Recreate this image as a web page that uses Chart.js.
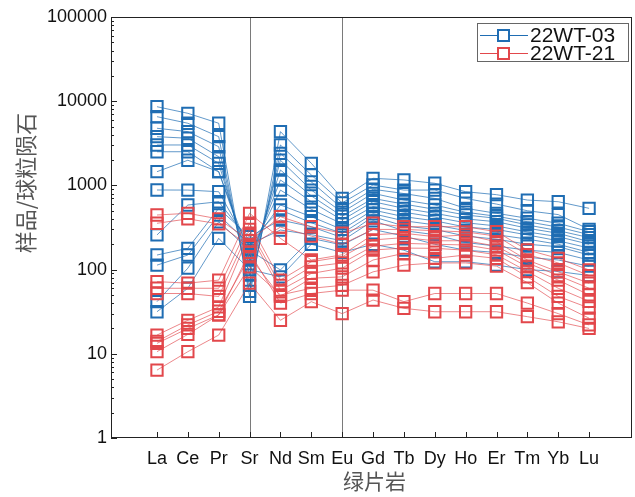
<!DOCTYPE html>
<html>
<head>
<meta charset="utf-8">
<script src="https://cdn.jsdelivr.net/npm/chart.js@4/dist/chart.umd.min.js"></script>
<style>
    html, body { margin: 0; padding: 0; background: #fff; }
    #wrap { width: 635px; height: 497px; }
</style>
</head>
<body>
<div id="wrap"><canvas id="reeChart" width="635" height="497"></canvas></div>
<script>
// ===== DATA =====
const CATEGORIES = ['La', 'Ce', 'Pr', 'Sr', 'Nd', 'Sm', 'Eu', 'Gd', 'Tb', 'Dy', 'Ho', 'Er', 'Tm', 'Yb', 'Lu'];
const Y_TICKS = [1, 10, 100, 1000, 10000, 100000];
const DIVIDERS = ['Sr', 'Eu'];
const SERIES_NAMES = ['22WT-03', '22WT-21'];

// 22WT-03 samples (La ... Lu)
const WT03_SAMPLES = [
    [8600, 7180, 5470, 48, 4350, 1830, 703, 1214, 1160, 1060, 841, 776, 670, 640, 534],
    [6550, 5470, 3790, 55, 3020, 1330, 620, 1011, 880, 880, 700, 600, 500, 450, 300],
    [4770, 4350, 2880, 65, 2405, 1100, 534, 900, 800, 700, 534, 466, 407, 355, 282],
    [3790, 3630, 2190, 86, 1990, 880, 480, 805, 670, 585, 480, 430, 370, 320, 260],
    [3020, 3020, 1830, 108, 1524, 750, 430, 700, 600, 520, 445, 407, 339, 290, 240],
    [2510, 2510, 1455, 130, 1160, 640, 388, 640, 534, 466, 400, 370, 310, 270, 214],
    [1455, 1990, 1455, 150, 880, 520, 350, 560, 480, 420, 360, 330, 280, 246, 200],
    [882, 880, 841, 187, 585, 425, 300, 510, 425, 380, 320, 300, 258, 220, 180],
    [258, 585, 640, 220, 510, 360, 270, 460, 380, 340, 290, 260, 230, 200, 160],
    [149, 179, 534, 246, 388, 323, 240, 425, 330, 300, 250, 230, 200, 187, 149],
    [113, 149, 445, 200, 295, 260, 220, 380, 290, 260, 210, 190, 170, 160, 130],
    [41.6, 104, 370, 170, 99, 235, 196, 300, 250, 200, 170, 160, 140, 130, 110],
    [31.6, 60, 235, 100, 82, 200, 160, 200, 170, 124, 124, 113, 100, 95, 85]
];

// 22WT-21 samples (La ... Lu)
const WT21_SAMPLES = [
    [445, 466, 400, 220, 425, 323, 270, 355, 323, 323, 323, 282, 171, 136, 99],
    [355, 400, 350, 187, 320, 250, 200, 300, 300, 290, 280, 250, 150, 120, 85],
    [72, 69, 75, 466, 235, 130, 150, 260, 270, 246, 258, 214, 130, 94, 69],
    [60, 60, 60, 355, 75, 124, 142, 225, 240, 220, 220, 190, 120, 85, 60],
    [52, 52, 48, 300, 65, 108, 120, 190, 205, 200, 196, 171, 108, 75, 50],
    [16.7, 25, 36, 270, 57, 90, 104, 171, 180, 179, 170, 150, 95, 60, 42],
    [14, 22, 32, 142, 48, 79, 82, 130, 156, 136, 149, 136, 82, 48, 35],
    [13.3, 20, 29, 108, 50, 60, 65, 94, 113, 120, 120, 110, 70, 40, 26.5],
    [10.6, 17, 29, 160, 40, 52, 57, 57, 41.6, 52, 52, 52, 40, 30, 22],
    [6.4, 10.6, 16.7, 69, 25, 41.6, 30, 43.5, 34.7, 31.6, 31.6, 31.6, 27.6, 24, 20]
];

// ===== STYLE =====
const BLUE = '#1f6db3';
const BLUE_LINE = 'rgba(31, 109, 179, 0.7)';
const RED = '#e2474b';
const RED_LINE = 'rgba(226, 71, 75, 0.65)';
const FONT = '"Liberation Sans", Arial, sans-serif';
const CJK = '"Noto Sans CJK SC", sans-serif';

// big square markers would otherwise make Chart.js inset the plot area
Chart.registry.getController('line').prototype.getMaxOverflow = () => 0;

function makeDataset(values, color, lineColor) {
    return {
        data: values.map((v, i) => ({ x: i, y: v })),
        borderColor: lineColor,
        borderWidth: 1,
        pointStyle: 'rect',
        pointRadius: 8,
        pointBorderWidth: 2,
        pointBorderColor: color,
        pointBackgroundColor: 'rgba(255,255,255,0)',
        tension: 0
    };
}

const datasets = [
    ...WT21_SAMPLES.map(s => makeDataset(s, RED, RED_LINE)),
    ...WT03_SAMPLES.map(s => makeDataset(s, BLUE, BLUE_LINE))
];

// ===== PLUGIN: frame, dividers, inward ticks, titles, legend =====
const decorPlugin = {
    id: 'decor',
    beforeDatasetsDraw(chart) {
        const { ctx, chartArea: a, scales: { x } } = chart;
        ctx.save();
        ctx.strokeStyle = '#7a7a7a';
        ctx.lineWidth = 1;
        DIVIDERS.forEach(name => {
            const px = Math.round(x.getPixelForValue(CATEGORIES.indexOf(name))) + 0.5;
            ctx.beginPath();
            ctx.moveTo(px, a.top);
            ctx.lineTo(px, a.bottom);
            ctx.stroke();
        });
        ctx.restore();
    },
    afterDraw(chart) {
        const { ctx, chartArea: a, scales: { x, y } } = chart;
        ctx.save();

        // frame
        ctx.strokeStyle = '#222';
        ctx.lineWidth = 1;
        ctx.strokeRect(a.left + 0.5, a.top + 0.5, a.right - a.left - 1, a.bottom - a.top - 1);

        // y ticks (major + minor), pointing inside
        ctx.beginPath();
        for (let d = 0; d < Y_TICKS.length; d++) {
            const base = Y_TICKS[d];
            const py = Math.round(y.getPixelForValue(base)) + 0.5;
            ctx.moveTo(a.left, py);
            ctx.lineTo(a.left + 6, py);
            if (d < Y_TICKS.length - 1) {
                for (let m = 2; m <= 9; m++) {
                    const my = Math.round(y.getPixelForValue(base * m)) + 0.5;
                    ctx.moveTo(a.left, my);
                    ctx.lineTo(a.left + 3, my);
                }
            }
        }
        // x ticks, pointing up
        CATEGORIES.forEach((c, i) => {
            const px = Math.round(x.getPixelForValue(i)) + 0.5;
            ctx.moveTo(px, a.bottom);
            ctx.lineTo(px, a.bottom - 6);
        });
        ctx.stroke();

        // y title
        ctx.fillStyle = '#555';
        ctx.font = '22px ' + CJK;
        ctx.textAlign = 'center';
        ctx.textBaseline = 'middle';
        ctx.translate(26, 183);
        ctx.rotate(-Math.PI / 2);
        ctx.fillText('样品/球粒陨石', 0, 0);
        ctx.setTransform(1, 0, 0, 1, 0, 0);

        // x title
        ctx.font = '21px ' + CJK;
        ctx.fillText('绿片岩', (a.left + a.right) / 2 + 3, 481);

        // legend
        const lx = 477, ly = 23, lw = 151, lh = 38;
        ctx.fillStyle = '#fff';
        ctx.fillRect(lx, ly, lw, lh);
        ctx.strokeStyle = '#666';
        ctx.lineWidth = 1;
        ctx.strokeRect(lx + 0.5, ly + 0.5, lw, lh);
        const entries = [[SERIES_NAMES[0], BLUE, 35], [SERIES_NAMES[1], RED, 53]];
        entries.forEach(([name, col, ey]) => {
            ctx.strokeStyle = col;
            ctx.lineWidth = 1;
            ctx.beginPath();
            ctx.moveTo(lx + 3, ey + 0.5);
            ctx.lineTo(lx + 51, ey + 0.5);
            ctx.stroke();
            ctx.fillStyle = '#fff';
            ctx.fillRect(lx + 21, ey - 5, 11, 11);
            ctx.lineWidth = 2;
            ctx.strokeRect(lx + 21, ey - 5, 11, 11);
            ctx.fillStyle = '#111';
            ctx.font = '21px ' + FONT;
            ctx.textAlign = 'left';
            ctx.textBaseline = 'middle';
            ctx.fillText(name, lx + 53, ey + 1);
        });

        ctx.restore();
    }
};

// ===== CHART =====
new Chart(document.getElementById('reeChart').getContext('2d'), {
    type: 'line',
    data: { datasets },
    plugins: [decorPlugin],
    options: {
        responsive: false,
        animation: false,
        layout: { padding: { top: 17, right: 3, left: 0, bottom: 0 } },
        plugins: {
            legend: { display: false },
            tooltip: { enabled: false }
        },
        scales: {
            x: {
                type: 'linear',
                min: -1.49,
                max: 15.39,
                grid: { display: false, drawTicks: false },
                border: { display: false },
                afterBuildTicks: scale => {
                    scale.ticks = CATEGORIES.map((c, i) => ({ value: i }));
                },
                afterFit: scale => {
                    scale.height = 59;
                    scale.paddingLeft = 0;
                    scale.paddingRight = 0;
                },
                ticks: {
                    autoSkip: false,
                    maxRotation: 0,
                    padding: 10,
                    color: '#111',
                    font: { family: FONT, size: 18 },
                    callback: v => CATEGORIES[v]
                }
            },
            y: {
                type: 'logarithmic',
                min: 1,
                max: 100000,
                grid: { display: false, drawTicks: false },
                border: { display: false },
                afterBuildTicks: scale => {
                    scale.ticks = Y_TICKS.map(v => ({ value: v, major: true }));
                },
                afterFit: scale => { scale.width = 111; },
                ticks: {
                    autoSkip: false,
                    padding: 4,
                    color: '#111',
                    font: { family: FONT, size: 18 },
                    callback: v => String(v)
                }
            }
        }
    }
});
</script>
</body>
</html>
